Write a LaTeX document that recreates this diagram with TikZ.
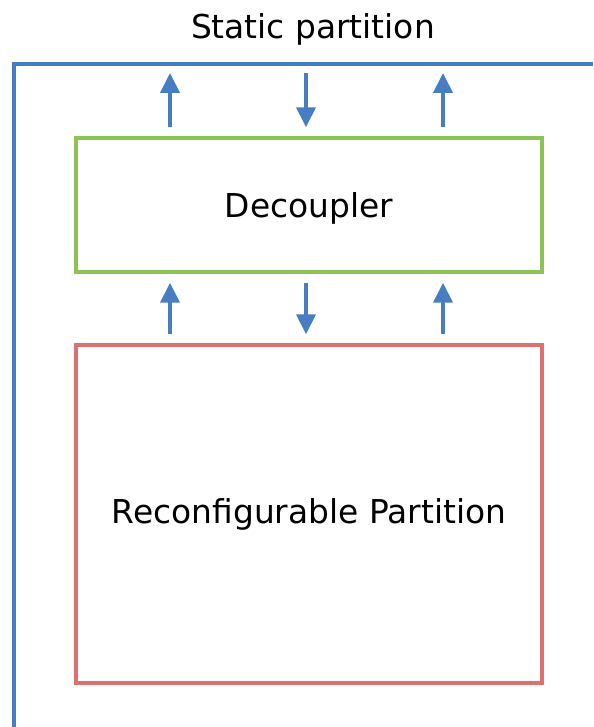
\documentclass[tikz,border=0pt]{standalone}
\usepackage{fontspec}
\setmainfont{DejaVu Sans}
\usetikzlibrary{arrows.meta,positioning,calc}
\definecolor{spblue}{RGB}{70,125,195}
\definecolor{decgreen}{RGB}{140,195,85}
\definecolor{rpred}{RGB}{224,112,112}
\tikzset{
  font=\fontsize{18.7}{22}\selectfont,
  partbox/.style={
    draw,
    line width=2pt,
    align=center,
    minimum width=9.32cm,
    inner sep=0pt
  },
  frame/.style={draw=spblue, line width=2pt},
  flow/.style={-{Triangle[width=0.38cm,length=0.4cm]}, draw=spblue, fill=spblue, line width=0.08cm, shorten <=0.18cm, shorten >=0.18cm}
}
\begin{document}
\begin{tikzpicture}[x=0.02cm, y=-0.02cm]
\useasboundingbox (0,0) rectangle (593,727);

\node[anchor=base] (title) at (313,38) {Static partition};
\node[partbox, draw=decgreen, minimum height=2.68cm, text depth=0pt] (decoupler) at (309,205) {Decoupler};
\node[partbox, draw=rpred, minimum height=6.76cm] (reconfig) at (309,514) {Reconfigurable Partition};

% static partition frame, cut off by the page edge
\coordinate (corner) at (14,64);
\coordinate (spA) at (170,64);
\coordinate (spB) at (306,64);
\coordinate (spC) at (443,64);
\draw[frame] (593,64) -- (corner) -- (14,727);

% static <-> decoupler
\draw[flow] (decoupler.north -| spA) -- (spA);
\draw[flow] (spB) -- (decoupler.north -| spB);
\draw[flow] (decoupler.north -| spC) -- (spC);

% decoupler <-> reconfigurable
\draw[flow] (reconfig.north -| spA) -- (decoupler.south -| spA);
\draw[flow] (decoupler.south -| spB) -- (reconfig.north -| spB);
\draw[flow] (reconfig.north -| spC) -- (decoupler.south -| spC);

\end{tikzpicture}
\end{document}
